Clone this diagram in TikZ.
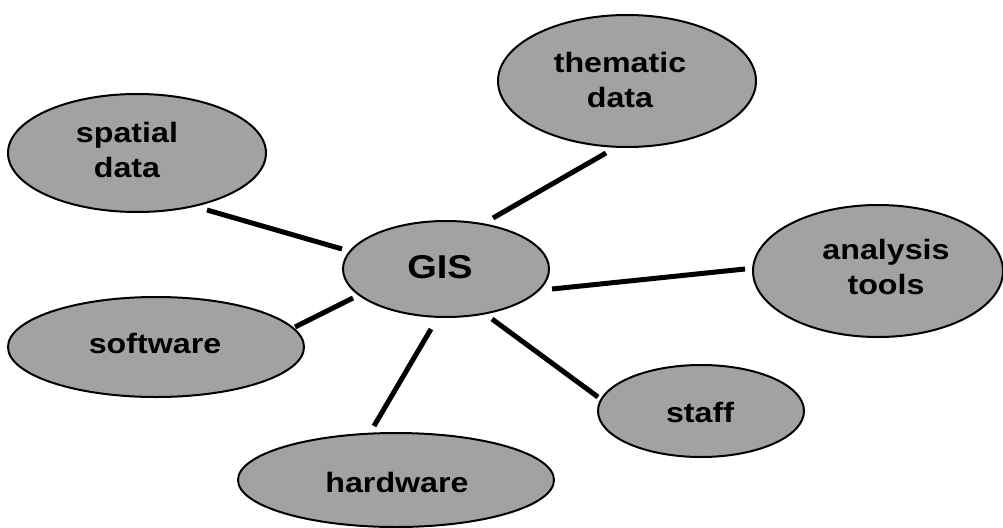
\documentclass[tikz,border=0pt]{standalone}
\usepackage{fontspec}
\setmainfont{Liberation Sans}[FakeStretch=1.15]
\usetikzlibrary{shapes.geometric}
\definecolor{ellfill}{RGB}{162,162,162}
\begin{document}
\begin{tikzpicture}[x=1pt,y=-1pt,
  ell/.style={ellipse, draw=black, line width=2pt, fill=ellfill, inner sep=0pt},
  lbl/.style={font=\bfseries\fontsize{28}{35}\selectfont, align=center, inner sep=0pt},
  conn/.style={line width=5pt}]
\useasboundingbox (0,0) rectangle (1003,527);
% ellipses
\node[ell, minimum width=258pt, minimum height=118pt] (spatial) at (137,153) {};
\node[ell, minimum width=258pt, minimum height=132pt] (thematic) at (627,81) {};
\node[ell, minimum width=206pt, minimum height=96pt] (gis) at (446,269) {};
\node[ell, minimum width=250pt, minimum height=132pt] (analysis) at (878,271) {};
\node[ell, minimum width=296pt, minimum height=100pt] (software) at (156,347) {};
\node[ell, minimum width=206pt, minimum height=92pt] (staff) at (701,411) {};
\node[ell, minimum width=316pt, minimum height=94pt] (hardware) at (396,480) {};
% labels
\node[lbl] (tspatial) at (127,150) {spatial\\data};
\node[lbl] (tthematic) at (620,80) {thematic\\data};
\node[lbl, anchor=base, font=\bfseries\fontsize{33}{35}\selectfont] (tgis) at (440,278) {GIS};
\node[lbl] (tanalysis) at (886,267) {analysis\\tools};
\node[lbl, anchor=base] (tsoftware) at (155,353) {software};
\node[lbl, anchor=base] (tstaff) at (700,422) {staff};
\node[lbl, anchor=base] (thardware) at (397,492) {hardware};
% connector end points
\coordinate (s1) at (207,210); \coordinate (s2) at (342,249);
\coordinate (th1) at (606,153); \coordinate (th2) at (493,218);
\coordinate (a1) at (745,269); \coordinate (a2) at (552,289);
\coordinate (so1) at (295,327); \coordinate (so2) at (353,298);
\coordinate (h1) at (374,426); \coordinate (h2) at (431,329);
\coordinate (st1) at (598,397); \coordinate (st2) at (492,319);
\draw[conn] (s1) -- (s2);
\draw[conn] (th1) -- (th2);
\draw[conn] (a1) -- (a2);
\draw[conn] (so1) -- (so2);
\draw[conn] (h1) -- (h2);
\draw[conn] (st1) -- (st2);
\end{tikzpicture}
\end{document}
